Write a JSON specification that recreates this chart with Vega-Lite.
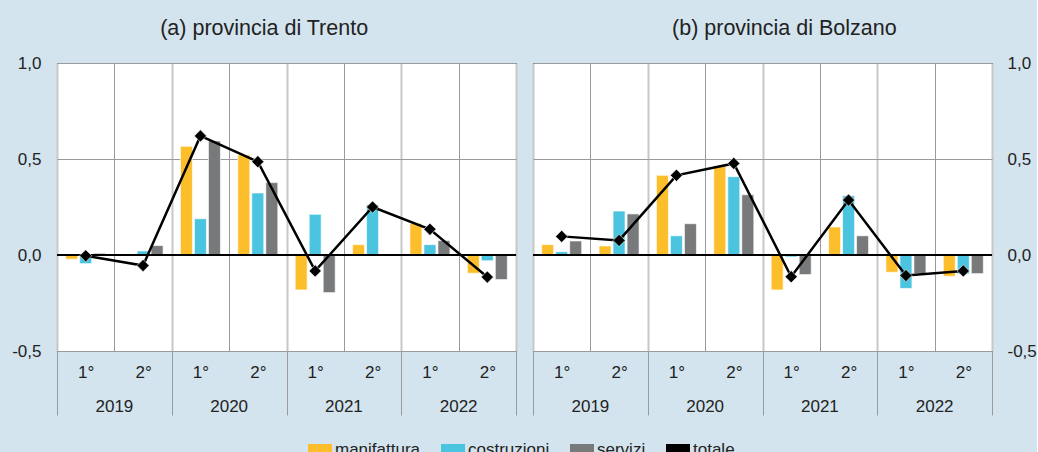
{
  "$schema": "https://vega.github.io/schema/vega-lite/v6.json",
  "background": "#d3e4ee",
  "padding": {"left": 11, "top": 17, "right": 0, "bottom": 0},
  "datasets": {
    "trento": [
      {"anno": "2019", "periodo": "2019-1", "settore": "manifattura", "valore": -0.022},
      {"anno": "2019", "periodo": "2019-1", "settore": "costruzioni", "valore": -0.045},
      {"anno": "2019", "periodo": "2019-1", "settore": "servizi", "valore": 0.009},
      {"anno": "2019", "periodo": "2019-1", "settore": "totale", "valore": -0.004},
      {"anno": "2019", "periodo": "2019-2", "settore": "manifattura", "valore": 0.0},
      {"anno": "2019", "periodo": "2019-2", "settore": "costruzioni", "valore": 0.021},
      {"anno": "2019", "periodo": "2019-2", "settore": "servizi", "valore": 0.049},
      {"anno": "2019", "periodo": "2019-2", "settore": "totale", "valore": -0.055},
      {"anno": "2020", "periodo": "2020-1", "settore": "manifattura", "valore": 0.566},
      {"anno": "2020", "periodo": "2020-1", "settore": "costruzioni", "valore": 0.189},
      {"anno": "2020", "periodo": "2020-1", "settore": "servizi", "valore": 0.594},
      {"anno": "2020", "periodo": "2020-1", "settore": "totale", "valore": 0.62},
      {"anno": "2020", "periodo": "2020-2", "settore": "manifattura", "valore": 0.521},
      {"anno": "2020", "periodo": "2020-2", "settore": "costruzioni", "valore": 0.323},
      {"anno": "2020", "periodo": "2020-2", "settore": "servizi", "valore": 0.377},
      {"anno": "2020", "periodo": "2020-2", "settore": "totale", "valore": 0.486},
      {"anno": "2021", "periodo": "2021-1", "settore": "manifattura", "valore": -0.182},
      {"anno": "2021", "periodo": "2021-1", "settore": "costruzioni", "valore": 0.212},
      {"anno": "2021", "periodo": "2021-1", "settore": "servizi", "valore": -0.196},
      {"anno": "2021", "periodo": "2021-1", "settore": "totale", "valore": -0.083},
      {"anno": "2021", "periodo": "2021-2", "settore": "manifattura", "valore": 0.054},
      {"anno": "2021", "periodo": "2021-2", "settore": "costruzioni", "valore": 0.262},
      {"anno": "2021", "periodo": "2021-2", "settore": "servizi", "valore": 0.0},
      {"anno": "2021", "periodo": "2021-2", "settore": "totale", "valore": 0.25},
      {"anno": "2022", "periodo": "2022-1", "settore": "manifattura", "valore": 0.165},
      {"anno": "2022", "periodo": "2022-1", "settore": "costruzioni", "valore": 0.054},
      {"anno": "2022", "periodo": "2022-1", "settore": "servizi", "valore": 0.075},
      {"anno": "2022", "periodo": "2022-1", "settore": "totale", "valore": 0.134},
      {"anno": "2022", "periodo": "2022-2", "settore": "manifattura", "valore": -0.095},
      {"anno": "2022", "periodo": "2022-2", "settore": "costruzioni", "valore": -0.03},
      {"anno": "2022", "periodo": "2022-2", "settore": "servizi", "valore": -0.128},
      {"anno": "2022", "periodo": "2022-2", "settore": "totale", "valore": -0.115}
    ],
    "bolzano": [
      {"anno": "2019", "periodo": "2019-1", "settore": "manifattura", "valore": 0.054},
      {"anno": "2019", "periodo": "2019-1", "settore": "costruzioni", "valore": 0.017},
      {"anno": "2019", "periodo": "2019-1", "settore": "servizi", "valore": 0.073},
      {"anno": "2019", "periodo": "2019-1", "settore": "totale", "valore": 0.097},
      {"anno": "2019", "periodo": "2019-2", "settore": "manifattura", "valore": 0.047},
      {"anno": "2019", "periodo": "2019-2", "settore": "costruzioni", "valore": 0.229},
      {"anno": "2019", "periodo": "2019-2", "settore": "servizi", "valore": 0.214},
      {"anno": "2019", "periodo": "2019-2", "settore": "totale", "valore": 0.076},
      {"anno": "2020", "periodo": "2020-1", "settore": "manifattura", "valore": 0.415},
      {"anno": "2020", "periodo": "2020-1", "settore": "costruzioni", "valore": 0.1},
      {"anno": "2020", "periodo": "2020-1", "settore": "servizi", "valore": 0.163},
      {"anno": "2020", "periodo": "2020-1", "settore": "totale", "valore": 0.415},
      {"anno": "2020", "periodo": "2020-2", "settore": "manifattura", "valore": 0.464},
      {"anno": "2020", "periodo": "2020-2", "settore": "costruzioni", "valore": 0.408},
      {"anno": "2020", "periodo": "2020-2", "settore": "servizi", "valore": 0.314},
      {"anno": "2020", "periodo": "2020-2", "settore": "totale", "valore": 0.477},
      {"anno": "2021", "periodo": "2021-1", "settore": "manifattura", "valore": -0.182},
      {"anno": "2021", "periodo": "2021-1", "settore": "costruzioni", "valore": -0.01},
      {"anno": "2021", "periodo": "2021-1", "settore": "servizi", "valore": -0.102},
      {"anno": "2021", "periodo": "2021-1", "settore": "totale", "valore": -0.113},
      {"anno": "2021", "periodo": "2021-2", "settore": "manifattura", "valore": 0.146},
      {"anno": "2021", "periodo": "2021-2", "settore": "costruzioni", "valore": 0.309},
      {"anno": "2021", "periodo": "2021-2", "settore": "servizi", "valore": 0.1},
      {"anno": "2021", "periodo": "2021-2", "settore": "totale", "valore": 0.286},
      {"anno": "2022", "periodo": "2022-1", "settore": "manifattura", "valore": -0.09},
      {"anno": "2022", "periodo": "2022-1", "settore": "costruzioni", "valore": -0.174},
      {"anno": "2022", "periodo": "2022-1", "settore": "servizi", "valore": -0.097},
      {"anno": "2022", "periodo": "2022-1", "settore": "totale", "valore": -0.107},
      {"anno": "2022", "periodo": "2022-2", "settore": "manifattura", "valore": -0.111},
      {"anno": "2022", "periodo": "2022-2", "settore": "costruzioni", "valore": -0.099},
      {"anno": "2022", "periodo": "2022-2", "settore": "servizi", "valore": -0.097},
      {"anno": "2022", "periodo": "2022-2", "settore": "totale", "valore": -0.083}
    ]
  },
  "spacing": 13,
  "hconcat": [
    {
      "title": "(a) provincia di Trento",
      "width": 459,
      "height": 288,
      "data": {"name": "trento"},
      "layer": [
        {
          "transform": [{"filter": "datum.settore !== 'totale'"}],
          "mark": {"type": "bar", "stroke": "#ffffff", "strokeWidth": 0.8, "strokeOpacity": 0.8},
          "encoding": {
            "x": {"field": "periodo", "type": "nominal", "scale": {"paddingInner": 0, "paddingOuter": 0},
              "axis": {"title": null, "tickBand": "extent", "grid": true, "ticks": true, "tickSize": 64, "domain": false, "labelAngle": 0, "labelPadding": -51,
                "labelExpr": "isString(datum.value) ? substring(datum.value, 5, 6) + '°' : ''",
                "tickColor": {"condition": {"test": "isString(datum.value) && indexof(datum.value, '-1') > 0", "value": "transparent"}, "value": "#9a9a9a"},
                "gridColor": {"condition": {"test": "isString(datum.value) && indexof(datum.value, '-1') > 0", "value": "#9a9a9a"}, "value": "#c8c8c8"},
                "gridWidth": {"condition": {"test": "isString(datum.value) && indexof(datum.value, '-1') > 0", "value": 1}, "value": 2}}},
            "xOffset": {"field": "settore", "type": "nominal", "scale": {"domain": ["manifattura", "costruzioni", "servizi"], "paddingInner": 0.143, "paddingOuter": 0.62}},
            "y": {"field": "valore", "type": "quantitative", "scale": {"domain": [-0.5, 1.0], "nice": false, "zero": false},
              "axis": {"orient": "left", "title": null, "values": [-0.5, 0, 0.5, 1.0], "grid": true, "gridColor": "#9a9a9a", "domain": false, "ticks": false, "labelPadding": 16,
                "labelExpr": "replace(replace(format(datum.value, '.1f'), '.', ','), '−', '-')"}},
            "color": {"field": "settore", "type": "nominal",
              "scale": {"domain": ["manifattura", "costruzioni", "servizi", "totale"], "range": ["#fdbe2b", "#4bc5df", "#77797b", "#000000"]},
              "legend": {"title": null, "orient": "none", "legendX": 251, "legendY": 375, "direction": "horizontal",
                "encode": {
                  "symbols": {
                    "update": {
                      "shape": {"signal": "datum.value === 'totale' ? 'M-1,0H1M0,-0.42L0.42,0L0,0.42L-0.42,0Z' : 'M-1,-0.5H1V0.5H-1Z'"},
                      "stroke": {"signal": "datum.value === 'totale' ? '#000000' : 'transparent'"},
                      "strokeWidth": {"signal": "datum.value === 'totale' ? 2.5 : 0"},
                      "fill": {"signal": "datum.value === 'totale' ? '#000000' : scale('color', datum.value)"}
                    }
                  }
                }}}
          }
        },
        {
          "mark": {"type": "rule", "color": "#000000", "strokeWidth": 1.2},
          "encoding": {"y": {"datum": 0}}
        },
        {
          "transform": [{"filter": "datum.settore === 'totale'"}],
          "mark": {"type": "line", "color": "#000000", "strokeWidth": 2.5},
          "encoding": {
            "x": {"field": "periodo", "type": "nominal"},
            "y": {"field": "valore", "type": "quantitative", "title": null}
          }
        },
        {
          "transform": [{"filter": "datum.settore === 'totale'"}],
          "mark": {"type": "point", "shape": "diamond", "filled": true, "color": "#000000", "size": 150, "opacity": 1, "stroke": "#ffffff", "strokeWidth": 0.6},
          "encoding": {
            "x": {"field": "periodo", "type": "nominal"},
            "y": {"field": "valore", "type": "quantitative", "title": null}
          }
        },
        {
          "transform": [{"filter": "datum.settore === 'totale' && indexof(datum.periodo, '-1') > 0"}],
          "mark": {"type": "text", "fontSize": 17, "color": "#222222", "baseline": "middle", "align": "center"},
          "encoding": {
            "x": {"field": "periodo", "type": "nominal", "bandPosition": 1},
            "y": {"datum": -0.79, "type": "quantitative"},
            "text": {"field": "anno"}
          }
        }
      ]
    },
    {
      "title": "(b) provincia di Bolzano",
      "width": 459,
      "height": 288,
      "data": {"name": "bolzano"},
      "layer": [
        {
          "transform": [{"filter": "datum.settore !== 'totale'"}],
          "mark": {"type": "bar", "stroke": "#ffffff", "strokeWidth": 0.8, "strokeOpacity": 0.8},
          "encoding": {
            "x": {"field": "periodo", "type": "nominal", "scale": {"paddingInner": 0, "paddingOuter": 0},
              "axis": {"title": null, "tickBand": "extent", "grid": true, "ticks": true, "tickSize": 64, "domain": false, "labelAngle": 0, "labelPadding": -51,
                "labelExpr": "isString(datum.value) ? substring(datum.value, 5, 6) + '°' : ''",
                "tickColor": {"condition": {"test": "isString(datum.value) && indexof(datum.value, '-1') > 0", "value": "transparent"}, "value": "#9a9a9a"},
                "gridColor": {"condition": {"test": "isString(datum.value) && indexof(datum.value, '-1') > 0", "value": "#9a9a9a"}, "value": "#c8c8c8"},
                "gridWidth": {"condition": {"test": "isString(datum.value) && indexof(datum.value, '-1') > 0", "value": 1}, "value": 2}}},
            "xOffset": {"field": "settore", "type": "nominal", "scale": {"domain": ["manifattura", "costruzioni", "servizi"], "paddingInner": 0.143, "paddingOuter": 0.62}},
            "y": {"field": "valore", "type": "quantitative", "scale": {"domain": [-0.5, 1.0], "nice": false, "zero": false},
              "axis": {"orient": "right", "title": null, "values": [-0.5, 0, 0.5, 1.0], "grid": true, "gridColor": "#9a9a9a", "domain": false, "ticks": false, "labelPadding": 15,
                "labelExpr": "replace(replace(format(datum.value, '.1f'), '.', ','), '−', '-')"}},
            "color": {"field": "settore", "type": "nominal",
              "scale": {"domain": ["manifattura", "costruzioni", "servizi", "totale"], "range": ["#fdbe2b", "#4bc5df", "#77797b", "#000000"]},
              "legend": {"title": null, "orient": "none", "legendX": 251, "legendY": 375, "direction": "horizontal",
                "encode": {
                  "symbols": {
                    "update": {
                      "shape": {"signal": "datum.value === 'totale' ? 'M-1,0H1M0,-0.42L0.42,0L0,0.42L-0.42,0Z' : 'M-1,-0.5H1V0.5H-1Z'"},
                      "stroke": {"signal": "datum.value === 'totale' ? '#000000' : 'transparent'"},
                      "strokeWidth": {"signal": "datum.value === 'totale' ? 2.5 : 0"},
                      "fill": {"signal": "datum.value === 'totale' ? '#000000' : scale('color', datum.value)"}
                    }
                  }
                }}}
          }
        },
        {
          "mark": {"type": "rule", "color": "#000000", "strokeWidth": 1.2},
          "encoding": {"y": {"datum": 0}}
        },
        {
          "transform": [{"filter": "datum.settore === 'totale'"}],
          "mark": {"type": "line", "color": "#000000", "strokeWidth": 2.5},
          "encoding": {
            "x": {"field": "periodo", "type": "nominal"},
            "y": {"field": "valore", "type": "quantitative", "title": null}
          }
        },
        {
          "transform": [{"filter": "datum.settore === 'totale'"}],
          "mark": {"type": "point", "shape": "diamond", "filled": true, "color": "#000000", "size": 150, "opacity": 1, "stroke": "#ffffff", "strokeWidth": 0.6},
          "encoding": {
            "x": {"field": "periodo", "type": "nominal"},
            "y": {"field": "valore", "type": "quantitative", "title": null}
          }
        },
        {
          "transform": [{"filter": "datum.settore === 'totale' && indexof(datum.periodo, '-1') > 0"}],
          "mark": {"type": "text", "fontSize": 17, "color": "#222222", "baseline": "middle", "align": "center"},
          "encoding": {
            "x": {"field": "periodo", "type": "nominal", "bandPosition": 1},
            "y": {"datum": -0.79, "type": "quantitative"},
            "text": {"field": "anno"}
          }
        }
      ]
    }
  ],
  "config": {
    "font": "Liberation Sans",
    "view": {"fill": "#ffffff", "stroke": "#222222", "strokeWidth": 1},
    "title": {"fontSize": 21.5, "fontWeight": "normal", "color": "#222222", "offset": 15, "font": "Liberation Sans", "frame": "bounds"},
    "axis": {"labelColor": "#222222", "labelFontSize": 17, "labelFont": "Liberation Sans"},
    "legend": {
      "labelFontSize": 17, "labelColor": "#222222", "labelFont": "Liberation Sans", "labelOffset": 3, "columnPadding": 20,
      "symbolType": "M-1,-0.5H1V0.5H-1Z", "symbolSize": 576, "symbolStrokeWidth": 0
    }
  }
}
